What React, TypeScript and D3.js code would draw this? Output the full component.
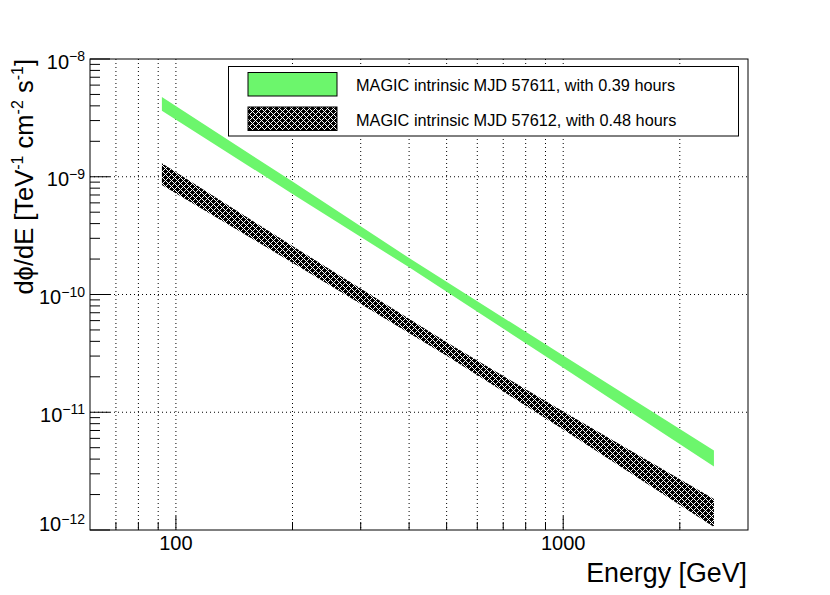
import { scaleLog, area as d3Area } from "d3";

// band limits (energy in GeV, flux in TeV^-1 cm^-2 s^-1)
const energy57611 = [92, 200, 400, 1000, 2450];
const upper57611 = [4.76e-9, 9.1e-10, 2.04e-10, 3.03e-11, 4.74e-12];
const lower57611 = [3.64e-9, 7.15e-10, 1.7e-10, 2.39e-11, 3.46e-12];

const energy57612 = [92, 200, 500, 1000, 2450];
const upper57612 = [1.3e-9, 2.58e-10, 3.93e-11, 1.015e-11, 1.83e-12];
const lower57612 = [8.5e-10, 1.86e-10, 3.02e-11, 7.14e-12, 1.06e-12];

const legendLabels = [
  "MAGIC intrinsic MJD 57611, with 0.39 hours",
  "MAGIC intrinsic MJD 57612, with 0.48 hours",
];

const xDomain = [60, 3000];
const yDomain = [1e-12, 1e-8];
const xGrid = [70, 80, 90, 100, 200, 300, 400, 500, 600, 700, 800, 900, 1000, 2000];
const xMajor = [100, 1000];
const yExponents = [-12, -11, -10, -9, -8];

const W = 830;
const H = 595;
const FRAME = { left: 90, right: 748, top: 59, bottom: 530 };
const FONT = "'Liberation Sans', Arial, Helvetica, sans-serif";
const GREEN = "#6cf66c";
const TILE = 6; // pixel tile of the cross-hatch

export default function App() {
  const x = scaleLog().domain(xDomain).range([FRAME.left, FRAME.right]);
  const y = scaleLog().domain(yDomain).range([FRAME.bottom, FRAME.top]);

  const band = (e: number[], lo: number[], hi: number[]) =>
    d3Area<number>()
      .x((i) => x(e[i]))
      .y0((i) => y(lo[i]))
      .y1((i) => y(hi[i]))(e.map((_, i) => i)) ?? "";

  const greenBand = band(energy57611, lower57611, upper57611);
  const hatchBand = band(energy57612, lower57612, upper57612);

  const yMinor: number[] = [];
  yExponents.slice(0, -1).forEach((p) => {
    for (let m = 2; m <= 9; m++) yMinor.push(m * Math.pow(10, p));
  });

  // black diamonds around pixel (0,0) and (3,3), separated by 1px white diagonals
  const h = TILE / 2;
  let hatchPath = "";
  for (let px = 0; px < TILE; px++) {
    for (let py = 0; py < TILE; py++) {
      const d1 = Math.min(px, TILE - px) + Math.min(py, TILE - py);
      const d2 = Math.abs(px - h) + Math.abs(py - h);
      if (d1 <= 2 || d2 <= 2) hatchPath += `M${px},${py}h1v1h-1z`;
    }
  }

  return (
    <svg
      width={W}
      height={H}
      viewBox={`0 0 ${W} ${H}`}
      style={{ position: "absolute", left: 0, top: 0, background: "#fff" }}
      fontFamily={FONT}
    >
      <defs>
        <pattern id="xhatch" width={TILE} height={TILE} patternUnits="userSpaceOnUse">
          <rect width={TILE} height={TILE} fill="#fff" />
          <path d={hatchPath} fill="#000" shapeRendering="crispEdges" />
        </pattern>
      </defs>

      {/* grid */}
      {xGrid.map((v) => (
        <line key={"gx" + v} x1={x(v)} x2={x(v)} y1={FRAME.top} y2={FRAME.bottom} stroke="#000" strokeDasharray="1 3" />
      ))}
      {yExponents.slice(1, -1).map((p) => (
        <line key={"gy" + p} x1={FRAME.left} x2={FRAME.right} y1={y(Math.pow(10, p))} y2={y(Math.pow(10, p))} stroke="#000" strokeDasharray="1 3" />
      ))}

      {/* bands */}
      <path d={greenBand} fill={GREEN} />
      <path d={hatchBand} fill="url(#xhatch)" />

      {/* frame */}
      <rect x={FRAME.left} y={FRAME.top} width={FRAME.right - FRAME.left} height={FRAME.bottom - FRAME.top} fill="none" stroke="#000" strokeWidth={1} />

      {/* x ticks */}
      {xGrid.map((v) => (
        <line key={"tx" + v} x1={x(v)} x2={x(v)} y1={FRAME.bottom} y2={FRAME.bottom - (xMajor.includes(v) ? 14 : 8)} stroke="#000" />
      ))}
      {xMajor.map((v) => (
        <text key={"lx" + v} x={x(v)} y={550} fontSize={20} textAnchor="middle">
          {v}
        </text>
      ))}

      {/* y ticks */}
      {yMinor.map((v, i) => (
        <line key={"my" + i} x1={FRAME.left} x2={FRAME.left + 10} y1={y(v)} y2={y(v)} stroke="#000" />
      ))}
      {yExponents.map((p) => (
        <g key={"ly" + p}>
          <line x1={FRAME.left} x2={FRAME.left + 20} y1={y(Math.pow(10, p))} y2={y(Math.pow(10, p))} stroke="#000" />
          <text x={85} y={y(Math.pow(10, p)) + (p === -12 ? 1 : 9.5)} fontSize={20} textAnchor="end">
            10
            <tspan fontSize={14} dy={-7.5}>
              {"\u2212" + Math.abs(p)}
            </tspan>
          </text>
        </g>
      ))}

      {/* axis titles */}
      <text x={747} y={582} fontSize={26.8} textAnchor="end">
        Energy [GeV]
      </text>
      <text transform={`translate(33,${FRAME.top}) rotate(-90)`} fontSize={25.5} textAnchor="end">
        dϕ/dE [TeV
        <tspan fontSize={16} dy={-10}>-1</tspan>
        <tspan dy={10}> cm</tspan>
        <tspan fontSize={16} dy={-10}>-2</tspan>
        <tspan dy={10}> s</tspan>
        <tspan fontSize={16} dy={-10}>-1</tspan>
        <tspan dy={10}>]</tspan>
      </text>

      {/* legend */}
      <rect x={228.5} y={66.5} width={510} height={69.5} fill="#fff" stroke="#000" />
      <rect x={248} y={72.5} width={89} height={23.5} fill={GREEN} stroke="#000" />
      <rect x={248} y={107} width={89} height={23.5} fill="url(#xhatch)" stroke="#000" />
      {legendLabels.map((t, i) => (
        <text key={t} x={356} y={90.5 + i * 35} fontSize={16.3}>
          {t}
        </text>
      ))}
    </svg>
  );
}
